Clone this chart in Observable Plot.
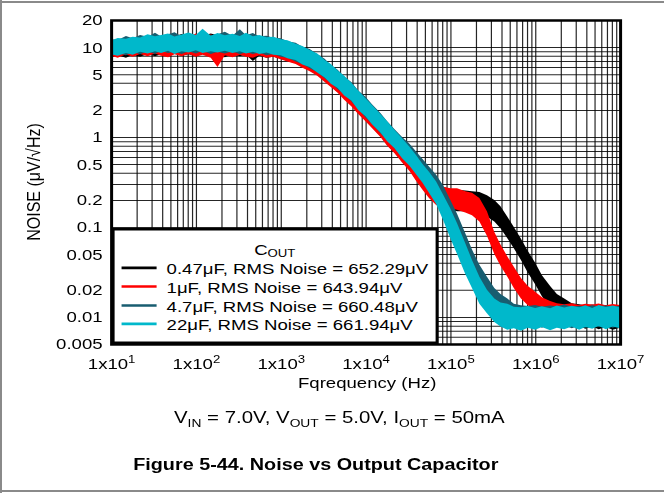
<!DOCTYPE html>
<html>
<head>
<meta charset="utf-8">
<script src="https://cdn.jsdelivr.net/npm/d3@7"></script>
<script src="https://cdn.jsdelivr.net/npm/@observablehq/plot@0.6"></script>
<style>
  html, body { margin: 0; padding: 0; background: #fff; }
  #page { position: relative; width: 664px; height: 493px; overflow: hidden; background: #fff;
          font-family: "Liberation Sans", Arial, Helvetica, sans-serif; }
  #inner { position: absolute; left: 0; top: 0; width: 553.333px; height: 493px;
           transform: scaleX(1.2); transform-origin: 0 0; }
  .edge { position: absolute; background: #8a8a8a; }
  #inner svg { position: absolute; left: 0; overflow: visible; }
</style>
</head>
<body>
<div id="page">
  <div class="edge" style="left:0;top:1px;width:664px;height:2px"></div>
  <div class="edge" style="left:0;top:0;width:2px;height:493px"></div>
  <div class="edge" style="left:0;top:490px;width:664px;height:2px"></div>
  <div id="inner"></div>
</div>
<script>
// ---------- data ----------
const freqs = [10,12,15,18,22,27,33,39,47,56,68,82,
  100,120,150,180,220,270,330,390,470,560,680,820,
  1000,1200,1500,1800,2200,2700,3300,3900,4700,5600,6800,8200,
  1e4,1.2e4,1.5e4,1.8e4,2.2e4,2.7e4,3.3e4,3.9e4,4.7e4,5.6e4,6.8e4,8.2e4,
  1e5,1.2e5,1.5e5,1.8e5,2.2e5,2.7e5,3.3e5,3.9e5,4.7e5,5.6e5,6.8e5,8.2e5,
  1e6,1.2e6,1.5e6,1.8e6,2.2e6,2.7e6,3.3e6,3.9e6,4.7e6,5.6e6,6.8e6,8.2e6,
  1e7];

// 0.47 uF (black) lower / upper noise envelope, uV/rtHz
const lo047 = [7.7,8.1,7.6,8.2,7.8,8.4,7.9,8.3,7.8,8.5,8.0,8.3,
  7.9,8.4,8.0,8.2,7.7,8.3,7.9,8.2,7.0,8.0,7.6,7.8,
  7.4,7.0,6.6,6.0,5.5,4.9,4.2,3.7,3.15,2.7,2.25,1.85,
  1.52,1.27,1.02,0.82,0.67,0.53,0.43,0.34,0.27,0.22,0.18,0.16,
  0.155,0.15,0.15,0.145,0.14,0.13,0.115,0.097,0.075,0.058,0.043,0.031,
  0.023,0.017,0.013,0.011,0.0095,0.0085,0.0079,0.0074,0.0078,0.0073,0.0077,0.0072,
  0.0076];
const hi047 = [11.2,12.0,12.5,12.2,13.0,12.6,13.4,12.9,13.7,13.2,14.0,13.3,
  13.8,13.4,14.2,13.5,14.0,13.2,13.9,13.1,13.6,12.9,13.2,12.6,
  12.0,11.3,10.5,9.7,8.8,7.9,6.8,6.0,5.1,4.4,3.65,3.0,
  2.5,2.05,1.65,1.35,1.08,0.86,0.7,0.56,0.45,0.36,0.3,0.28,
  0.265,0.26,0.255,0.25,0.245,0.225,0.2,0.17,0.13,0.1,0.074,0.054,
  0.04,0.029,0.022,0.018,0.016,0.0142,0.0138,0.0134,0.0137,0.0132,0.0136,0.0131,
  0.0135];

// 1 uF (red)
const lo1 = [8.0,7.6,8.3,7.8,8.4,7.9,8.5,8.0,7.7,8.3,7.9,8.4,
  7.8,8.2,7.6,6.0,8.1,7.7,8.2,7.8,7.6,8.1,7.6,7.8,
  7.3,6.9,6.5,5.9,5.4,4.8,4.1,3.6,3.1,2.6,2.2,1.8,
  1.5,1.25,1.0,0.8,0.66,0.52,0.42,0.33,0.26,0.21,0.175,0.165,
  0.16,0.155,0.145,0.135,0.115,0.08,0.05,0.037,0.028,0.021,0.016,0.0135,
  0.012,0.011,0.0095,0.0088,0.0083,0.0086,0.008,0.0085,0.0079,0.0084,0.0081,0.0086,
  0.0082];
const hi1 = [11.5,12.2,12.0,12.9,12.4,13.5,12.8,13.2,14.0,12.9,13.6,13.1,
  14.2,13.3,13.8,13.1,13.9,13.0,14.1,13.2,13.7,12.8,13.1,12.4,
  11.9,11.2,10.3,9.6,8.7,7.8,6.7,6.0,5.0,4.4,3.6,2.95,
  2.45,2.0,1.6,1.33,1.06,0.84,0.68,0.54,0.43,0.34,0.3,0.28,
  0.27,0.27,0.25,0.24,0.21,0.15,0.088,0.064,0.047,0.036,0.027,0.022,
  0.019,0.0165,0.015,0.0142,0.0138,0.0142,0.0136,0.014,0.0137,0.0141,0.0135,0.0139,
  0.0136];

// 4.7 uF (dark teal)
const lo47 = [8.0,8.6,8.1,8.8,8.3,9.0,8.4,9.1,8.6,8.9,8.4,9.0,
  8.5,9.1,8.4,8.9,8.5,9.0,8.3,8.8,8.4,8.7,8.1,8.4,
  7.8,7.6,6.9,6.5,5.8,5.3,4.5,4.0,3.4,3.0,2.5,2.05,
  1.65,1.4,1.1,0.92,0.75,0.6,0.51,0.42,0.35,0.28,0.23,0.165,
  0.115,0.08,0.05,0.033,0.022,0.016,0.0125,0.011,0.009,0.0085,0.0082,0.0079,
  0.0083,0.0076,0.0082,0.0077,0.0081,0.0075,0.008,0.0076,0.0082,0.0077,0.0081,0.0076,
  0.008];
const hi47 = [12.2,12.0,13.3,12.5,13.6,13.0,14.4,13.1,13.9,14.6,13.2,14.0,
  13.4,14.6,13.5,13.9,14.8,13.4,15.8,13.5,14.3,13.2,13.4,12.7,
  12.5,11.6,11.2,10.1,9.5,8.3,7.4,6.3,5.6,4.7,4.1,3.3,
  2.8,2.3,1.85,1.5,1.22,1.0,0.84,0.7,0.57,0.47,0.38,0.29,
  0.2,0.14,0.085,0.056,0.038,0.028,0.021,0.018,0.016,0.014,0.0135,0.0132,
  0.0136,0.013,0.0134,0.0131,0.0137,0.013,0.0133,0.0129,0.0135,0.0131,0.0134,0.013,
  0.0133];

// 22 uF (cyan)
const lo22 = [8.3,8.0,8.6,8.2,8.9,8.5,9.0,8.6,9.1,8.4,9.0,8.7,
  9.2,8.6,9.0,8.7,9.1,8.6,9.0,8.5,8.9,8.4,8.7,8.2,
  8.1,7.5,7.2,6.4,6.0,5.2,4.6,3.9,3.5,2.9,2.55,2.0,
  1.7,1.38,1.12,0.9,0.75,0.58,0.48,0.39,0.31,0.24,0.18,0.12,
  0.075,0.05,0.03,0.021,0.014,0.011,0.0088,0.0078,0.0072,0.0075,0.007,0.0076,
  0.0072,0.0077,0.0071,0.0076,0.0073,0.0078,0.0072,0.0077,0.0074,0.0079,0.0073,0.0078,
  0.0075];
const hi22 = [11.8,12.6,12.4,13.0,12.8,13.9,13.2,13.6,14.2,13.1,13.8,14.5,
  13.6,16.0,13.4,14.3,13.5,14.1,13.3,14.4,13.2,13.6,12.9,13.0,
  12.2,11.9,10.9,10.3,9.3,8.5,7.2,6.5,5.5,4.8,4.0,3.3,
  2.7,2.25,1.8,1.5,1.2,0.97,0.78,0.64,0.5,0.41,0.32,0.23,
  0.16,0.11,0.066,0.043,0.028,0.02,0.016,0.0145,0.014,0.013,0.0128,0.0132,
  0.0126,0.0131,0.0125,0.0134,0.0127,0.0133,0.0128,0.0135,0.0126,0.0136,0.0129,0.0134,
  0.0128];

const seriesNames = ["0.47μF", "1μF", "4.7μF", "22μF"];
const legendLabels = ["0.47μF, RMS Noise = 652.29μV", "1μF, RMS Noise = 643.94μV",
                      "4.7μF, RMS Noise = 660.48μV", "22μF, RMS Noise = 661.94μV"];
const seriesColors = ["#000000", "#ff0000", "#185d70", "#00b8cb"];

const xTicks = [10, 100, 1000, 1e4, 1e5, 1e6, 1e7];
const xTickLabels = ["1x10^1", "1x10^2", "1x10^3", "1x10^4", "1x10^5", "1x10^6", "1x10^7"];
const yTicks = [20, 10, 5, 2, 1, 0.5, 0.2, 0.1, 0.05, 0.02, 0.01, 0.005];
const yTickLabels = ["20", "10", "5", "2", "1", "0.5", "0.2", "0.1", "0.05", "0.02", "0.01", "0.005"];

const xTitle = "Fqrequency (Hz)";
const yTitle = "NOISE (μV/√Hz)";
const legendTitle = ["C", "OUT"];
const conditions = [["V", "IN", " = 7.0V, "], ["V", "OUT", " = 5.0V, "], ["I", "OUT", " = 50mA"]];
const figTitle = "Figure 5-44. Noise vs Output Capacitor";

// ---------- layout ----------
const FONT = "'Liberation Sans', Arial, Helvetica, sans-serif";
const W = 664 / 1.2;
const H = 393;
const ML = 92.5, MR = W - 516.67, MT = 20, MB = 49;

const lows = [lo047, lo1, lo47, lo22];
const highs = [hi047, hi1, hi47, hi22];
const tables = seriesNames.map((name, s) => freqs.map((f, i) => ({f, lo: lows[s][i], hi: highs[s][i], name})));

const xGrid = [];
for (let e = 1; e < 7; e++) for (let k = 1; k < 10; k++) xGrid.push(k * Math.pow(10, e));
xGrid.push(1e7);
const yGrid = [];
for (let e = -3; e < 2; e++) for (let k = 1; k < 10; k++) {
  const v = +(k * Math.pow(10, e)).toPrecision(6);
  if (v >= 0.005 && v <= 20) yGrid.push(v);
}
yGrid.push(20);

const xTickRows = xTicks.map((d, i) => ({v: d, label: xTickLabels[i]}));
const yTickRows = yTicks.map((d, i) => ({v: d, label: yTickLabels[i]}));

const chart = Plot.plot({
  width: W, height: H,
  marginLeft: ML, marginRight: MR, marginTop: MT, marginBottom: MB,
  x: {type: "log", domain: [10, 1e7], axis: null},
  y: {type: "log", domain: [0.005, 20], axis: null},
  style: {fontFamily: FONT, fontSize: "15.5px", color: "#000", background: "transparent"},
  marks: [
    Plot.ruleX(xGrid, {stroke: "#000", strokeWidth: 1, strokeOpacity: 0.85}),
    Plot.ruleY(yGrid, {stroke: "#000", strokeWidth: 1, strokeOpacity: 0.85}),
    ...tables.map((t, s) => Plot.areaY(t, {x: "f", y1: "lo", y2: "hi", fill: seriesColors[s], curve: "linear", clip: true})),
    Plot.text(yTickRows, {y: "v", text: "label", frameAnchor: "left", dx: -7.5, textAnchor: "end", fontSize: 15.5, fill: "#000"}),
    Plot.text(xTickRows, {x: "v", text: "label", frameAnchor: "bottom", lineAnchor: "top", dy: 13.5, fontSize: 15.5, fill: "#000"}),
    Plot.frame({stroke: "#000", strokeWidth: 2.5})
  ]
});
chart.style.top = "0px";
document.getElementById("inner").appendChild(chart);

const svg = d3.select(chart);
svg.selectAll("text").filter(function () { return this.textContent.indexOf("^") >= 0; }).each(function () {
  const t = d3.select(this);
  const parts = t.text().split("^");
  t.text(null);
  t.append("tspan").text(parts[0]);
  t.append("tspan").attr("font-size", "11px").attr("dy", "-6").text(parts[1]);
});
svg.append("text")
  .attr("transform", "translate(33.5,182) rotate(-90)")
  .attr("text-anchor", "middle").attr("font-size", "16px").attr("fill", "#000")
  .text(yTitle);
svg.append("text")
  .attr("x", 306).attr("y", 388)
  .attr("text-anchor", "middle").attr("font-size", "15.5px").attr("fill", "#000")
  .text(xTitle);

// ---------- legend (inside the plot, bottom-left) ----------
const lgW = 365 - ML, lgH = 344 - 228;
const lg = d3.select("#inner").append("svg")
  .attr("width", lgW).attr("height", lgH)
  .style("left", ML + "px").style("top", "228px")
  .style("font-family", FONT).style("font-size", "15.5px");
lg.append("rect").attr("x", 1.25).attr("y", 1.25).attr("width", lgW - 2.5).attr("height", lgH - 2.5)
  .attr("fill", "#fff").attr("stroke", "#000").attr("stroke-width", 2.5);
const lt = lg.append("text").attr("x", 136).attr("y", 27).attr("text-anchor", "middle");
lt.append("tspan").text(legendTitle[0]);
lt.append("tspan").attr("font-size", "11px").attr("dy", "2.5").text(legendTitle[1]);
const baselines = [46, 64.7, 83.7, 102];
legendLabels.forEach((label, i) => {
  lg.append("line").attr("x1", 8.3).attr("x2", 37.5)
    .attr("y1", baselines[i] - 6.2).attr("y2", baselines[i] - 6.2)
    .attr("stroke", seriesColors[i]).attr("stroke-width", 2.7);
  lg.append("text").attr("x", 45.8).attr("y", baselines[i]).text(label);
});

// ---------- caption ----------
const cap = d3.select("#inner").append("svg")
  .attr("width", W).attr("height", 100)
  .style("top", H + "px")
  .style("font-family", FONT);
const ct = cap.append("text").attr("x", 145).attr("y", 423 - H).attr("font-size", "17px");
conditions.forEach(([a, sub, rest]) => {
  ct.append("tspan").text(a);
  ct.append("tspan").attr("font-size", "11.5px").attr("dy", "4").text(sub);
  ct.append("tspan").attr("dy", "-4").text(rest);
});
cap.append("text").attr("x", 111).attr("y", 470 - H)
  .attr("font-size", "16.5px").attr("font-weight", "bold").text(figTitle);
</script>
</body>
</html>
